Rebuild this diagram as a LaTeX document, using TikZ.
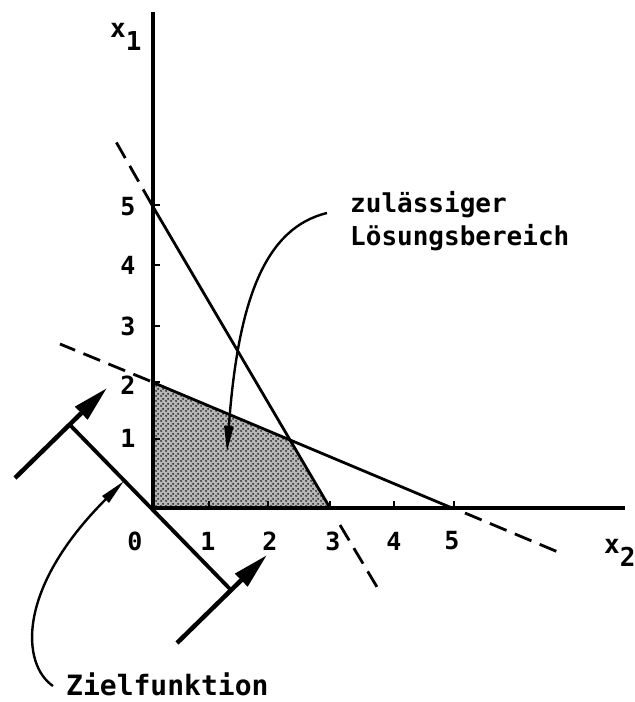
\documentclass[tikz,border=0pt]{standalone}
\usepackage{fontspec}
\setmonofont{DejaVu Sans Mono}
\usetikzlibrary{patterns.meta,arrows.meta}
\tikzdeclarepattern{name=lpdots, type=uncolored,
  bounding box={(0pt,0pt) and (5pt,5pt)}, tile size={(5pt,5pt)},
  code={\fill (1.25pt,1.25pt) circle (1.3pt); \fill (3.75pt,3.75pt) circle (1.3pt);}}
\begin{document}
\begin{tikzpicture}[x=1pt,y=-1pt,
  lbl/.style={inner sep=0pt,font=\ttfamily\bfseries\fontsize{26}{30}\selectfont},
  num/.style={inner sep=0pt,font=\ttfamily\bfseries\fontsize{25}{30}\selectfont},
  axis/.style={line width=3.6pt},
  constr/.style={line width=2.8pt},
  dashext/.style={line width=2.8pt,dash pattern=on 18pt off 9pt},
  bigarrow/.style={line width=4.5pt,-{Triangle[length=36pt,width=17pt]}},
  pointer/.style={line width=2.4pt,-{Triangle[length=26pt,width=9pt]}}]
\useasboundingbox (0,0) rectangle (635,702);
% feasible region
\coordinate (O) at (152,508);
\coordinate (A5) at (152,205);
\coordinate (A3) at (330,508);
\coordinate (B2) at (152,382);
\coordinate (B5) at (452,508);
\coordinate (S) at (290.3,439.6);
\fill[black!28] (O) -- (B2) -- (S) -- (A3) -- cycle;
\fill[pattern=lpdots,pattern color=black!80] (O) -- (B2) -- (S) -- (A3) -- cycle;
% axes
\draw[axis] (153,12) -- (153,508);
\draw[axis] (151,508) -- (625,508);
% ticks
\foreach \xx in {209,268,330,394,454} \draw[line width=2.5pt] (\xx,508) -- (\xx,501);
\foreach \yy in {439,382,326,265,205} \draw[line width=2.5pt] (153,\yy) -- (160,\yy);
% constraint lines
\draw[constr] (A5) -- (A3);
\draw[dashext] (152,205) -- (115,140);
\draw[dashext] (340,525) -- (380,592);
\draw[constr] (B2) -- (B5);
\draw[dashext] (150,381) -- (60,344);
\draw[dashext] (465,513) -- (558,552);
% objective function
\draw[line width=3.8pt] (70,425) -- (230,589);
\draw[bigarrow] (15,478) -- (107,388);
\draw[bigarrow] (177,643) -- (267,555);
% labels
\node[num] (n0) at (135,541) {0};
\node[num] (n1) at (208,541) {1};
\node[num] (n2) at (270,541) {2};
\node[num] (n3) at (333,541) {3};
\node[num] (n4) at (394,541) {4};
\node[num] (n5) at (452,541) {5};
\node[num] (m1) at (128,438) {1};
\node[num] (m2) at (128,385) {2};
\node[num] (m3) at (128,326) {3};
\node[num] (m4) at (128,265) {4};
\node[num] (m5) at (128,207) {5};
\node[lbl,anchor=base west] (x1) at (110,37) {x\raisebox{-0.5em}{1}};
\node[lbl,anchor=base west] (x2) at (604,553) {x\raisebox{-0.5em}{2}};
\node[lbl,anchor=base west] (zl) at (350,212) {zulässiger};
\node[lbl,anchor=base west] (lb) at (350,245) {Lösungsbereich};
\node[lbl,anchor=base west,font=\ttfamily\bfseries\fontsize{28}{30}\selectfont] (zf) at (66,695) {Zielfunktion};
% pointers
\coordinate (p1) at (327,213);
\coordinate (t1) at (227,452);
\draw[pointer] (p1) .. controls (265,228) and (238,300) .. (t1);
\coordinate (p2) at (53,686);
\coordinate (t2) at (124,481);
\draw[pointer] (p2) .. controls (22,665) and (15,590) .. (t2);
\end{tikzpicture}
\end{document}
